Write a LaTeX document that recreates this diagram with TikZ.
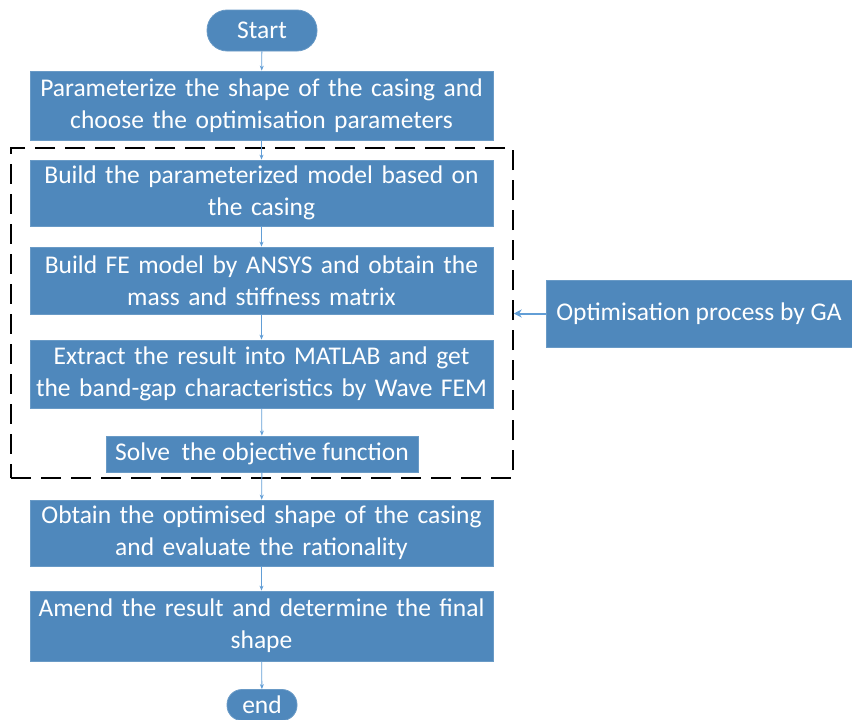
\documentclass[tikz,border=0pt]{standalone}
\usepackage{fontspec}
\setmainfont{Carlito}
\usepackage{xcolor}
\usetikzlibrary{arrows.meta}
\definecolor{boxblue}{RGB}{79,136,188}
\definecolor{lineblue}{RGB}{98,158,214}

\tikzset{
  stepbox/.style={fill=boxblue, draw=boxblue!85!white, line width=0.8pt, text=white,
    minimum width=463pt, text width=460pt, align=center, inner sep=0pt,
    font=\fontsize{25.5}{32}\selectfont},
  terminal/.style={stepbox, rounded corners=20pt, text width=, minimum width=110pt,
    minimum height=41pt},
  flow/.style={lineblue, line width=0.8pt, -{Stealth[length=5pt,width=4pt]}}
}

\begin{document}
\begin{tikzpicture}[x=1pt,y=-1pt]
\clip (0,0) rectangle (852,720);
\useasboundingbox (0,0) rectangle (852,720);

% main column
\node[terminal] (start) at (262,30.5) {Start};
\node[stepbox, minimum height=69pt] (param) at (261.5,105.5)
  {Parameterize the shape of the casing and\\ choose the optimisation parameters};
\node[draw=black, dashed, dash pattern=on 20pt off 10pt, line width=1.5pt,
  minimum width=502pt, minimum height=330pt] (loop) at (262,313) {};
\node[stepbox, minimum height=66pt] (model) at (261.5,193)
  {Build the parameterized model based on\\ the casing};
\node[stepbox, minimum height=67pt] (fe) at (261.5,280.5)
  {Build FE model by ANSYS and obtain the\\ mass and stiffness matrix};
\node[stepbox, minimum height=68pt] (wave) at (261.5,374)
  {Extract the result into MATLAB and get\\ the band-gap characteristics by Wave FEM};
\node[stepbox, minimum height=36pt, minimum width=312pt, text width=] (solve) at (262,454)
  {Solve\ \ the objective function};
\node[stepbox, minimum height=66pt] (optim) at (261.5,533)
  {Obtain the optimised shape of the casing\\ and evaluate the rationality};
\node[stepbox, minimum height=70pt] (amend) at (261.5,626)
  {Amend the result and determine the final\\ shape};
\node[terminal, minimum width=70pt, minimum height=31pt, rounded corners=15pt] (end) at (262,705) {end};

% GA loop
\node[stepbox, minimum height=67pt, minimum width=306pt, text width=] (ga) at (699,313.5)
  {Optimisation process by GA};

\draw[flow] (start) -- (param);
\draw[flow] (param) -- (model);
\draw[flow] (model) -- (fe);
\draw[flow] (fe) -- (wave);
\draw[flow] (wave) -- (solve);
\draw[flow] (solve) -- (optim);
\draw[flow] (optim) -- (amend);
\draw[flow] (amend) -- (end);
\draw[flow, line width=2pt, -{Stealth[length=8pt,width=8pt]}] (ga.west) -- (ga.west -| loop.east);
\end{tikzpicture}
\end{document}
